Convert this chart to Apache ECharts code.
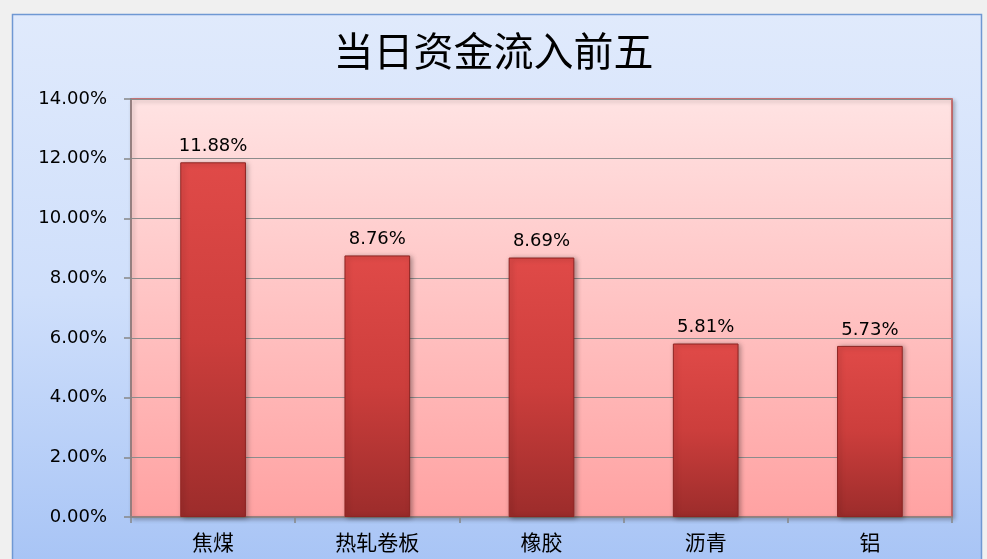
<!DOCTYPE html>
<html><head><meta charset="utf-8">
<script src="https://cdn.jsdelivr.net/npm/echarts@6/dist/echarts.min.js"></script>
<style>html,body{margin:0;padding:0;background:#f0f0f0;}#c{width:987px;height:559px;}</style>
</head><body><div id="c"></div>
<script>
const categories = ['焦煤', '热轧卷板', '橡胶', '沥青', '铝'];
const values = [11.88, 8.76, 8.69, 5.81, 5.73];
const yTicks = [0, 2, 4, 6, 8, 10, 12, 14];
const titleText = '当日资金流入前五';

const chart = echarts.init(document.getElementById('c'), null, {renderer: 'canvas'});
chart.setOption({
  animation: false,
  backgroundColor: '#f0f0f0',
  graphic: [{
    type: 'rect', z: -10, silent: true,
    shape: {x: 12.5, y: 14.5, width: 969, height: 560},
    style: {
      fill: new echarts.graphic.LinearGradient(0, 0, 0, 1, [
        {offset: 0, color: '#e0eafc'}, {offset: 0.5, color: '#cfdffb'}, {offset: 1, color: '#a6c3f5'}]),
      stroke: '#6f98d3', lineWidth: 1.5
    }
  }],
  title: {
    text: titleText, left: 'center', top: 26,
    textStyle: {fontFamily: 'Noto Sans CJK SC', fontSize: 40, fontWeight: 'normal', color: '#000'}
  },
  grid: {
    left: 131, right: 35, top: 99, bottom: 42, show: true,
    backgroundColor: new echarts.graphic.LinearGradient(0, 0, 0, 1, [
      {offset: 0, color: '#ffe3e3'}, {offset: 1, color: '#ffa2a2'}]),
    borderColor: '#c0504d', borderWidth: 1.5,
    shadowColor: 'rgba(0,0,0,0.25)', shadowBlur: 4, shadowOffsetX: 2, shadowOffsetY: 2
  },
  xAxis: {
    type: 'category', data: categories,
    axisLine: {show: true, lineStyle: {color: '#868686', width: 1.5}},
    axisTick: {show: true, length: 6, lineStyle: {color: '#868686', width: 1.5}},
    axisLabel: {margin: 15, fontFamily: 'Noto Sans CJK SC', fontSize: 21, color: '#000'}
  },
  yAxis: {
    type: 'value', min: 0, max: 14, interval: 2,
    axisLine: {show: true, lineStyle: {color: '#868686', width: 1.5}},
    axisTick: {show: true, length: 7, lineStyle: {color: '#868686', width: 1.5}},
    splitLine: {show: true, lineStyle: {color: '#8c8c8c', width: 1.2}},
    axisLabel: {margin: 24, fontFamily: 'DejaVu Sans', fontSize: 18, color: '#000',
      formatter: v => v.toFixed(2) + '%'}
  },
  series: [{
    type: 'bar', data: values, barWidth: '40%',
    itemStyle: {
      color: new echarts.graphic.LinearGradient(0, 0, 0, 1, [
        {offset: 0, color: '#e04a48'}, {offset: 0.5, color: '#cc3e3c'}, {offset: 1, color: '#9c2c2b'}]),
      borderColor: '#8e2523', borderWidth: 1,
      shadowColor: 'rgba(0,0,0,0.35)', shadowBlur: 5, shadowOffsetX: 2, shadowOffsetY: 1
    },
    label: {
      show: true, position: 'top', distance: 7,
      fontFamily: 'DejaVu Sans', fontSize: 18, color: '#000',
      formatter: p => p.value.toFixed(2) + '%'
    }
  }]
});
</script></body></html>
